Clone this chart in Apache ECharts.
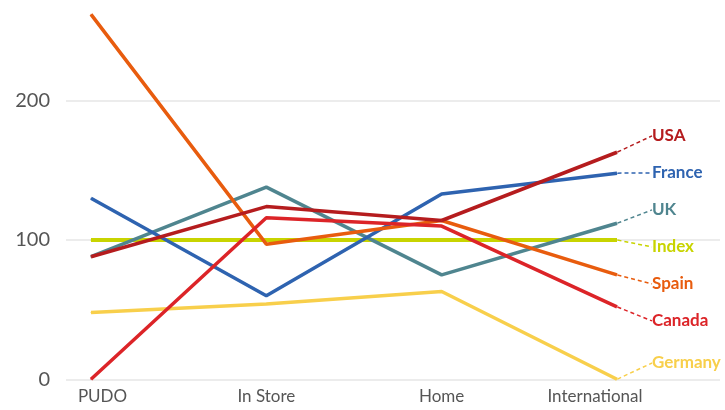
<!DOCTYPE html>
<html><head><meta charset="utf-8">
<script src="https://cdn.jsdelivr.net/npm/echarts@6/dist/echarts.min.js"></script>
<style>html,body{margin:0;padding:0;background:#fff}#c{width:725px;height:410px}</style>
</head><body><div id="c"></div>
<script>
const categories = ['PUDO', 'In Store', 'Home', 'International'];
const yTicks = [0, 100, 200];
const seriesNames = ['Germany', 'Index', 'UK', 'France', 'Spain', 'Canada', 'USA'];
const germany = [48, 54, 63, 0];
const indexVals = [100, 100, 100, 100];
const uk = [88, 138, 75, 112];
const france = [130, 60, 133, 148];
const spain = [262, 97, 114, 75];
const canada = [0, 116, 110, 52];
const usa = [88, 124, 114, 163];

const values = { Germany: germany, Index: indexVals, UK: uk, France: france, Spain: spain, Canada: canada, USA: usa };
const colors = { Germany: '#f8cf4b', Index: '#c8d400', UK: '#4f858f', France: '#2e63b0', Spain: '#e85c0e', Canada: '#dc2428', USA: '#b51c1e' };
const labelPad = { 'PUDO': [0, 0, 0, 23], 'In Store': [0, 0, 0, 0], 'Home': [0, 0, 0, 0], 'International': [0, 44, 0, 0] };

const chart = echarts.init(document.getElementById('c'));
const font = 'Lato, "Open Sans", sans-serif';
const gridTop = 0, gridBottom = 30.7, yMax = 272.3;
const LABEL_X = 646, GAP = 37, MIN_Y = 20, MAX_Y = 363;

function baseSeries(name, layoutY) {
  const vals = values[name];
  return {
    name, type: 'line', xAxisIndex: 0, yAxisIndex: 0,
    data: vals.map((v, i) => i === vals.length - 1
      ? { value: v, label: { show: true, formatter: name } }
      : { value: v }),
    symbol: 'circle', symbolSize: 1, showSymbol: true,
    lineStyle: { color: colors[name], width: name === 'Index' ? 4 : 3.5 },
    itemStyle: { color: colors[name] },
    label: { show: false, position: 'right', color: colors[name], fontFamily: font, fontWeight: 'bold', fontSize: 17, padding: [0, 0, 0, 6] },
    labelLayout: layoutY == null ? { x: LABEL_X } : { x: LABEL_X, y: layoutY, align: 'left', verticalAlign: 'middle' },
    labelLine: { show: true, lineStyle: { color: colors[name], type: [4, 3], width: 1.5 } },
    emphasis: { disabled: true },
    animation: false, z: 3
  };
}

chart.setOption({
  animation: false,
  grid: [
    { left: 91, right: 108, top: gridTop, bottom: gridBottom },
    { left: 66, right: 5, top: gridTop, bottom: gridBottom }
  ],
  xAxis: [
    { type: 'category', gridIndex: 0, boundaryGap: false,
      data: categories.map(c => ({ value: c, textStyle: { padding: labelPad[c] } })),
      axisLine: { show: false }, axisTick: { show: false },
      axisLabel: { color: '#555', fontFamily: font, fontSize: 17, margin: 9 } },
    { type: 'value', gridIndex: 1, show: false }
  ],
  yAxis: [
    { type: 'value', gridIndex: 0, min: 0, max: yMax, interval: 100, show: false },
    { type: 'value', gridIndex: 1, min: 0, max: yMax, interval: 100,
      axisLine: { show: false }, axisTick: { show: false },
      axisLabel: { color: '#555', fontFamily: font, fontSize: 20, margin: 16, showMaxLabel: false,
        formatter: v => yTicks.includes(v) ? String(v) : '' },
      splitLine: { showMaxLine: false, lineStyle: { color: '#e6e6e6', width: 1.5 } } }
  ],
  series: seriesNames.map(n => baseSeries(n, null))
});

// Spread end labels so they don't overlap (cluster balancing)
const anchors = seriesNames.map(n => {
  const vals = values[n];
  return { name: n, a: chart.convertToPixel({ xAxisIndex: 0, yAxisIndex: 0 }, [vals.length - 1, vals[vals.length - 1]])[1] };
}).sort((p, q) => p.a - q.a);
let clusters = anchors.map(p => ({ items: [p] }));
function place(c) {
  const k = c.items.length;
  let mean = 0;
  c.items.forEach((it, i) => { mean += it.a - i * GAP; });
  let start = mean / k;
  start = Math.max(MIN_Y, Math.min(start, MAX_Y - (k - 1) * GAP));
  c.start = start;
}
clusters.forEach(place);
let changed = true;
while (changed) {
  changed = false;
  for (let i = 0; i < clusters.length - 1; i++) {
    const c1 = clusters[i], c2 = clusters[i + 1];
    const end1 = c1.start + (c1.items.length - 1) * GAP;
    if (c2.start - end1 < GAP - 0.01) {
      const merged = { items: c1.items.concat(c2.items) };
      place(merged);
      clusters.splice(i, 2, merged);
      changed = true;
      break;
    }
  }
}
const labelY = {};
clusters.forEach(c => c.items.forEach((it, i) => { labelY[it.name] = c.start + i * GAP; }));

chart.setOption({ series: seriesNames.map(n => baseSeries(n, labelY[n])) });
</script></body></html>
